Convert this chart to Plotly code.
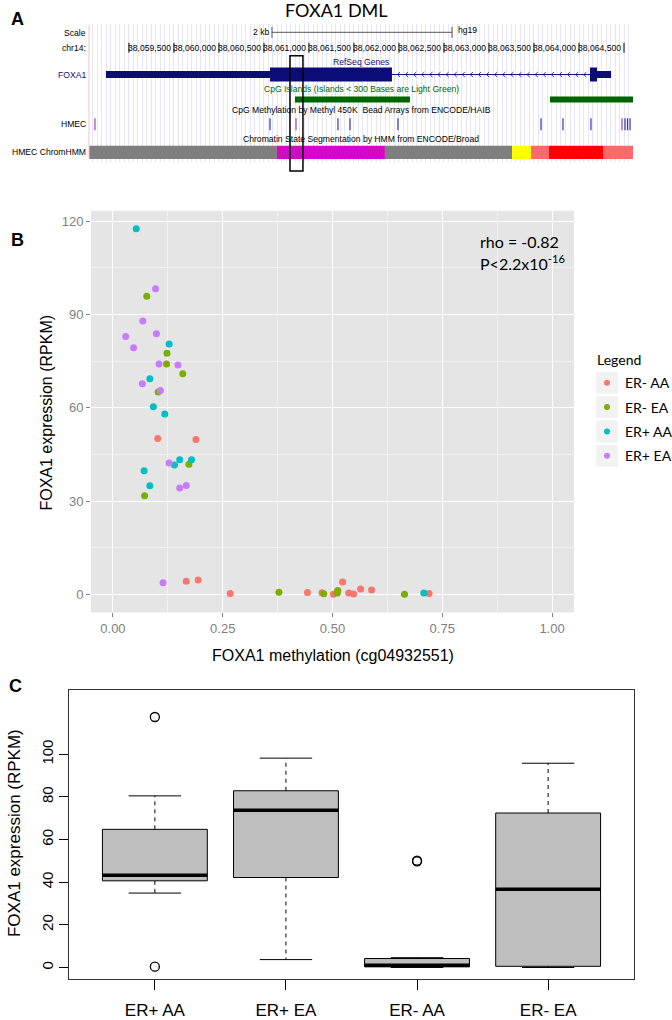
import numpy as np
import plotly.graph_objects as go

W, H = 672, 1020

def px(x):
    return x / W

def py(y):
    return 1 - y / H

# ---------------- Panel B / C data ----------------
groups = ["ER- AA", "ER- EA", "ER+ AA", "ER+ EA"]
colors = ["#F8766D", "#7CAE00", "#00BFC4", "#C77CFF"]

er_neg_aa_meth = [0.102, 0.189, 0.167, 0.194, 0.267, 0.443, 0.476, 0.502, 0.523, 0.537, 0.548, 0.564, 0.589, 0.720]
er_neg_aa_expr = [50.1, 49.8, 4.2, 4.6, 0.3, 0.6, 0.5, 0.0, 4.0, 0.4, 0.1, 1.7, 1.4, 0.3]
er_neg_ea_meth = [0.077, 0.123, 0.122, 0.159, 0.103, 0.173, 0.072, 0.378, 0.480, 0.511, 0.512, 0.664]
er_neg_ea_expr = [95.8, 77.5, 74.0, 70.9, 65.0, 41.8, 31.7, 0.7, 0.2, 0.4, 1.2, 0.0]
er_pos_aa_meth = [0.053, 0.128, 0.084, 0.092, 0.118, 0.140, 0.152, 0.179, 0.071, 0.084, 0.708]
er_pos_aa_expr = [117.5, 80.5, 69.3, 60.3, 58.0, 41.6, 43.3, 43.3, 39.7, 34.9, 0.4]
er_pos_ea_meth = [0.097, 0.068, 0.029, 0.099, 0.047, 0.105, 0.148, 0.067, 0.108, 0.128, 0.152, 0.167, 0.114]
er_pos_ea_expr = [98.2, 87.9, 82.9, 83.8, 79.3, 74.0, 73.7, 67.7, 65.5, 42.2, 34.2, 35.0, 3.7]

meth = [er_neg_aa_meth, er_neg_ea_meth, er_pos_aa_meth, er_pos_ea_meth]
expr = [er_neg_aa_expr, er_neg_ea_expr, er_pos_aa_expr, er_pos_ea_expr]

box_order = ["ER+ AA", "ER+ EA", "ER- AA", "ER- EA"]

x_ticks_b = [0, 0.25, 0.5, 0.75, 1.0]
x_ticklabels_b = ["0.00", "0.25", "0.50", "0.75", "1.00"]
y_ticks_b = [0, 30, 60, 90, 120]
y_ticks_c = [0, 20, 40, 60, 80, 100]

# ---------------- Panel A data (genome browser) ----------------
view_start, view_end = 38058556, 38064600
coord_ticks = list(range(38059000, 38064501, 500))
scale_bar = (38060589, 38062589)
gene_exon_starts = [38058744, 38064122]
gene_exon_ends = [38061922, 38064356]
gene_cds = (38060567, 38064200)
cpg_starts = [38060844, 38063678]
cpg_ends = [38062122, 38064600]
probe_pos = [38058622, 38060567, 38060856, 38061322, 38061456, 38061989, 38063578,
             38063822, 38064133, 38064478, 38064511, 38064539, 38064567]
probe_state = ["mid", "low", "mid", "low", "low", "low", "low", "low", "low", "mid", "low", "low", "low"]
hmm_bounds = [38058556, 38060644, 38061844, 38063256, 38063467, 38063667, 38064267, 38064600]
hmm_states = ["Repressed", "Poised Promoter", "Repressed", "Weak Enhancer",
              "Weak Promoter", "Active Promoter", "Weak Promoter"]
dml_region = (38060789, 38060933)

hmm_colors = {"Repressed": "rgb(127,127,127)", "Poised Promoter": "rgb(207,11,198)",
              "Weak Enhancer": "rgb(255,252,4)", "Weak Promoter": "rgb(255,105,105)",
              "Active Promoter": "rgb(255,0,0)"}
probe_colors = {"mid": "#A040A8", "low": "#3434B0"}
NAVY = "#0C0C78"
GREEN = "#006400"
UFONT = "Liberation Sans"
USIZE = 8.6

fig = go.Figure()

# ---------------- Panel B ----------------
for name, xs, ys, col in zip(groups, meth, expr, colors):
    fig.add_trace(go.Scatter(x=xs, y=ys, mode="markers", name=name,
                             marker=dict(color=col, size=7),
                             xaxis="x", yaxis="y", hoverinfo="skip", showlegend=False))

# ---------------- Panel C ----------------
def fivenum(v):
    x = np.sort(np.asarray(v, dtype=float))
    n = len(x)
    n4 = np.floor((n + 3) / 2) / 2
    d = np.array([1, n4, (n + 1) / 2, n + 1 - n4, n])
    return 0.5 * (x[np.floor(d).astype(int) - 1] + x[np.ceil(d).astype(int) - 1])

data_by_group = dict(zip(groups, expr))
for i, g in enumerate(box_order):
    pos = i + 1
    v = np.asarray(data_by_group[g], dtype=float)
    mn, q1, med, q3, mx = fivenum(v)
    iqr = q3 - q1
    inside = v[(v >= q1 - 1.5 * iqr) & (v <= q3 + 1.5 * iqr)]
    lo, hi = inside.min(), inside.max()
    outl = v[(v < q1 - 1.5 * iqr) | (v > q3 + 1.5 * iqr)]
    fig.add_trace(go.Box(x=[pos], q1=[q1], median=[med], q3=[q3], lowerfence=[q1], upperfence=[q3],
                         width=0.8, whiskerwidth=0, fillcolor="#BEBEBE",
                         line=dict(color="black", width=1), xaxis="x2", yaxis="y2",
                         showlegend=False, hoverinfo="skip", boxpoints=False))
    fig.add_trace(go.Scatter(x=[pos, pos, None, pos, pos], y=[q3, hi, None, q1, lo], mode="lines",
                             line=dict(color="black", width=1, dash="4px,4px"),
                             xaxis="x2", yaxis="y2", showlegend=False, hoverinfo="skip"))
    fig.add_trace(go.Scatter(x=[pos - 0.2, pos + 0.2, None, pos - 0.2, pos + 0.2], y=[hi, hi, None, lo, lo],
                             mode="lines", line=dict(color="black", width=1),
                             xaxis="x2", yaxis="y2", showlegend=False, hoverinfo="skip"))
    fig.add_trace(go.Scatter(x=[pos - 0.4, pos + 0.4], y=[med, med], mode="lines",
                             line=dict(color="black", width=3.5),
                             xaxis="x2", yaxis="y2", showlegend=False, hoverinfo="skip"))
    if len(outl):
        fig.add_trace(go.Scatter(x=[pos] * len(outl), y=outl, mode="markers",
                                 marker=dict(symbol="circle-open", size=9, color="black", line=dict(width=1.3)),
                                 xaxis="x2", yaxis="y2", showlegend=False, hoverinfo="skip"))

# ---------------- Panel A ----------------
shapes = []
annotations = []

# coordinate ticks
tx, ty = [], []
for t in coord_ticks:
    tx += [t, t, None]
    ty += [43, 53, None]
fig.add_trace(go.Scatter(x=tx, y=ty, mode="lines", line=dict(color="black", width=1),
                         xaxis="x3", yaxis="y3", showlegend=False, hoverinfo="skip"))
for t in coord_ticks[1:]:
    annotations.append(dict(x=t - 6, y=48, xref="x3", yref="y3", text=f"{t:,}", showarrow=False,
                            xanchor="right", yanchor="middle", font=dict(family=UFONT, size=USIZE, color="black")))

# scale bar
fig.add_trace(go.Scatter(x=[scale_bar[0], scale_bar[0], None, scale_bar[0], scale_bar[1], None, scale_bar[1], scale_bar[1]],
                         y=[27, 38, None, 32.5, 32.5, None, 27, 38], mode="lines",
                         line=dict(color="#555555", width=1), xaxis="x3", yaxis="y3",
                         showlegend=False, hoverinfo="skip"))
annotations.append(dict(x=scale_bar[0] - 15, y=32, xref="x3", yref="y3", text="2 kb", showarrow=False,
                        xanchor="right", yanchor="middle", font=dict(family=UFONT, size=USIZE, color="black")))
annotations.append(dict(x=scale_bar[1] + 40, y=30, xref="x3", yref="y3", text="hg19", showarrow=False,
                        xanchor="left", yanchor="middle", font=dict(family=UFONT, size=USIZE, color="black")))

# gene model
for s, e in zip(gene_exon_starts, gene_exon_ends):
    if s < gene_cds[0]:
        shapes.append(dict(type="rect", xref="x3", yref="y3", x0=s, x1=min(e, gene_cds[0]), y0=71.5, y1=78.5,
                           fillcolor=NAVY, line=dict(width=0)))
    if e > gene_cds[1]:
        shapes.append(dict(type="rect", xref="x3", yref="y3", x0=max(s, gene_cds[1]), x1=e, y0=71.5, y1=78.5,
                           fillcolor=NAVY, line=dict(width=0)))
    cs, ce = max(s, gene_cds[0]), min(e, gene_cds[1])
    if ce > cs:
        shapes.append(dict(type="rect", xref="x3", yref="y3", x0=cs, x1=ce, y0=68, y1=82,
                           fillcolor=NAVY, line=dict(width=0)))
intr_s, intr_e = gene_exon_ends[0], gene_exon_starts[1]
shapes.append(dict(type="line", xref="x3", yref="y3", x0=intr_s, x1=intr_e, y0=75, y1=75,
                   line=dict(color=NAVY, width=1)))
cx, cy = [], []
for c in np.arange(intr_s + 60, intr_e - 40, 90):
    cx += [c + 30, c, c + 30, None]
    cy += [72.5, 75, 77.5, None]
fig.add_trace(go.Scatter(x=cx, y=cy, mode="lines", line=dict(color=NAVY, width=0.8),
                         xaxis="x3", yaxis="y3", showlegend=False, hoverinfo="skip"))

# CpG islands
for s, e in zip(cpg_starts, cpg_ends):
    shapes.append(dict(type="rect", xref="x3", yref="y3", x0=s, x1=e, y0=97, y1=103,
                       fillcolor=GREEN, line=dict(width=0)))

# methylation probes
for p, st in zip(probe_pos, probe_state):
    shapes.append(dict(type="line", xref="x3", yref="y3", x0=p, x1=p, y0=119, y1=131,
                       line=dict(color=probe_colors[st], width=1.2)))

# chromHMM
for s, e, st in zip(hmm_bounds[:-1], hmm_bounds[1:], hmm_states):
    shapes.append(dict(type="rect", xref="x3", yref="y3", x0=s, x1=e, y0=146.5, y1=160,
                       fillcolor=hmm_colors[st], line=dict(width=0)))

# left edge line
shapes.append(dict(type="line", xref="paper", yref="paper", x0=px(89), x1=px(89), y0=py(160), y1=py(25),
                   line=dict(color="#F2C4C4", width=1)))

# DML box
shapes.append(dict(type="rect", xref="x3", yref="paper", x0=dml_region[0], x1=dml_region[1],
                   y0=py(172), y1=py(56), line=dict(color="black", width=1.5), fillcolor="rgba(0,0,0,0)"))

# track labels
track_center = px(361)
for txt, yy, col in [("RefSeq Genes", 62, NAVY),
                     ("CpG Islands (Islands < 300 Bases are Light Green)", 90, GREEN),
                     ("CpG Methylation by Methyl 450K  Bead Arrays from ENCODE/HAIB", 111, "black"),
                     ("Chromatin State Segmentation by HMM from ENCODE/Broad", 140, "black")]:
    annotations.append(dict(x=track_center, y=py(yy), xref="paper", yref="paper", text=txt, showarrow=False,
                            xanchor="center", yanchor="middle", font=dict(family=UFONT, size=USIZE, color=col)))
for txt, yy, col in [("Scale", 33, "black"), ("chr14:", 48, "black"), ("FOXA1", 75, NAVY),
                     ("HMEC", 125, "black"), ("HMEC ChromHMM", 153, "black")]:
    annotations.append(dict(x=px(88), y=py(yy), xref="paper", yref="paper", text=txt, showarrow=False,
                            xanchor="right", yanchor="middle", font=dict(family=UFONT, size=USIZE, color=col)))

# titles & panel letters
annotations.append(dict(x=px(336), y=py(10), xref="paper", yref="paper", text="FOXA1 DML", showarrow=False,
                        xanchor="center", yanchor="middle", font=dict(family="Lato", size=18, color="black")))
for txt, xx, yy in [("A", 17, 19), ("B", 17, 241), ("C", 15, 690)]:
    annotations.append(dict(x=px(xx), y=py(yy), xref="paper", yref="paper", text=f"<b>{txt}</b>", showarrow=False,
                            xanchor="center", yanchor="middle",
                            font=dict(family="Liberation Sans", size=18, color="black")))

# Panel B text
annotations.append(dict(x=px(478), y=py(243), xref="paper", yref="paper", text="rho = -0.82", showarrow=False,
                        xanchor="left", yanchor="middle", font=dict(family="Lato", size=16, color="black")))
annotations.append(dict(x=px(478), y=py(264), xref="paper", yref="paper", text="P<2.2x10<sup>-16</sup>",
                        showarrow=False, xanchor="left", yanchor="middle",
                        font=dict(family="Lato", size=16, color="black")))
annotations.append(dict(x=px(333), y=py(659), xref="paper", yref="paper", text="FOXA1 methylation (cg04932551)",
                        showarrow=False, xanchor="center", yanchor="middle",
                        font=dict(family="Liberation Sans", size=16, color="black")))
annotations.append(dict(x=px(47), y=py(415), xref="paper", yref="paper", text="FOXA1 expression (RPKM)",
                        showarrow=False, xanchor="center", yanchor="middle", textangle=-90,
                        font=dict(family="Liberation Sans", size=16, color="black")))
# Panel C y title
annotations.append(dict(x=px(14), y=py(838), xref="paper", yref="paper", text="FOXA1 expression (RPKM)",
                        showarrow=False, xanchor="center", yanchor="middle", textangle=-90,
                        font=dict(family="Liberation Sans", size=17, color="black")))

# Panel B background
shapes.append(dict(type="rect", xref="x domain", yref="y domain", x0=0, x1=1, y0=0, y1=1,
                   fillcolor="#E5E5E5", line=dict(width=0), layer="below"))

# Legend (ggplot style, drawn manually)
annotations.append(dict(x=px(595), y=py(362), xref="paper", yref="paper", text="Legend", showarrow=False,
                        xanchor="left", yanchor="middle", font=dict(family="Lato", size=14, color="black")))
for k, (name, col) in enumerate(zip(groups, colors)):
    yc = 385 + 24.5 * k
    shapes.append(dict(type="rect", xref="paper", yref="paper", x0=px(596), x1=px(618),
                       y0=py(yc + 11), y1=py(yc - 11), fillcolor="#F2F2F2", line=dict(width=0)))
    shapes.append(dict(type="circle", xref="paper", yref="paper", x0=px(604), x1=px(610),
                       y0=py(yc + 3), y1=py(yc - 3), fillcolor=col, line=dict(width=0)))
    annotations.append(dict(x=px(623), y=py(yc), xref="paper", yref="paper", text=name, showarrow=False,
                            xanchor="left", yanchor="middle", font=dict(family="Lato", size=14, color="black")))

fig.update_layout(
    width=W, height=H, margin=dict(l=0, r=0, t=0, b=0),
    paper_bgcolor="white", plot_bgcolor="rgba(0,0,0,0)",
    font=dict(family="Liberation Sans"),
    shapes=shapes, annotations=annotations,
    showlegend=False,
    xaxis=dict(domain=[px(91), px(574)], anchor="y", range=[-0.05, 1.05],
               tickvals=x_ticks_b, ticktext=x_ticklabels_b, showgrid=True, gridcolor="white", gridwidth=1.4,
               minor=dict(showgrid=True, gridcolor="#F2F2F2", gridwidth=0.7, dtick=0.125, tick0=0),
               ticks="outside", ticklen=4, tickcolor="#7F7F7F", tickfont=dict(size=13, color="#7F7F7F"),
               zeroline=False, showline=False),
    yaxis=dict(domain=[py(616), py(212)], anchor="x", range=[-5.8, 123.3],
               tickvals=y_ticks_b, showgrid=True, gridcolor="white", gridwidth=1.4,
               minor=dict(showgrid=True, gridcolor="#F2F2F2", gridwidth=0.7, dtick=15, tick0=0),
               ticks="outside", ticklen=4, tickcolor="#7F7F7F", tickfont=dict(size=13, color="#7F7F7F"),
               zeroline=False, showline=False),
    xaxis2=dict(domain=[px(69), px(634)], anchor="y2", range=[0.345, 4.655],
                tickvals=[1, 2, 3, 4], ticktext=box_order, ticks="outside", ticklen=10, tickcolor="black",
                ticklabelstandoff=5,
                tickfont=dict(size=17, color="black"), showgrid=False, zeroline=False,
                showline=True, mirror=True, linecolor="#333333", linewidth=1),
    yaxis2=dict(domain=[py(985), py(694)], anchor="x2", range=[-5.5, 130.2],
                tickvals=y_ticks_c, tickangle=-90, ticks="outside", ticklen=9, tickcolor="black",
                tickfont=dict(size=15, color="black"), showgrid=False, zeroline=False,
                showline=True, mirror=True, linecolor="#333333", linewidth=1),
    xaxis3=dict(domain=[px(89), px(633)], anchor="y3", range=[view_start, view_end],
                showgrid=True, dtick=50, tick0=38059000, gridcolor="#E6E6F6", gridwidth=1,
                showticklabels=False, ticks="", zeroline=False, showline=False),
    yaxis3=dict(domain=[py(163), py(24)], anchor="x3", range=[163, 24],
                showgrid=False, showticklabels=False, ticks="", zeroline=False, showline=False),
)

fig.write_html("out.html", config={"displayModeBar": False},
               post_script="document.body.style.margin='0px';document.body.style.padding='0px';"
                           "document.body.style.overflow='hidden';")
